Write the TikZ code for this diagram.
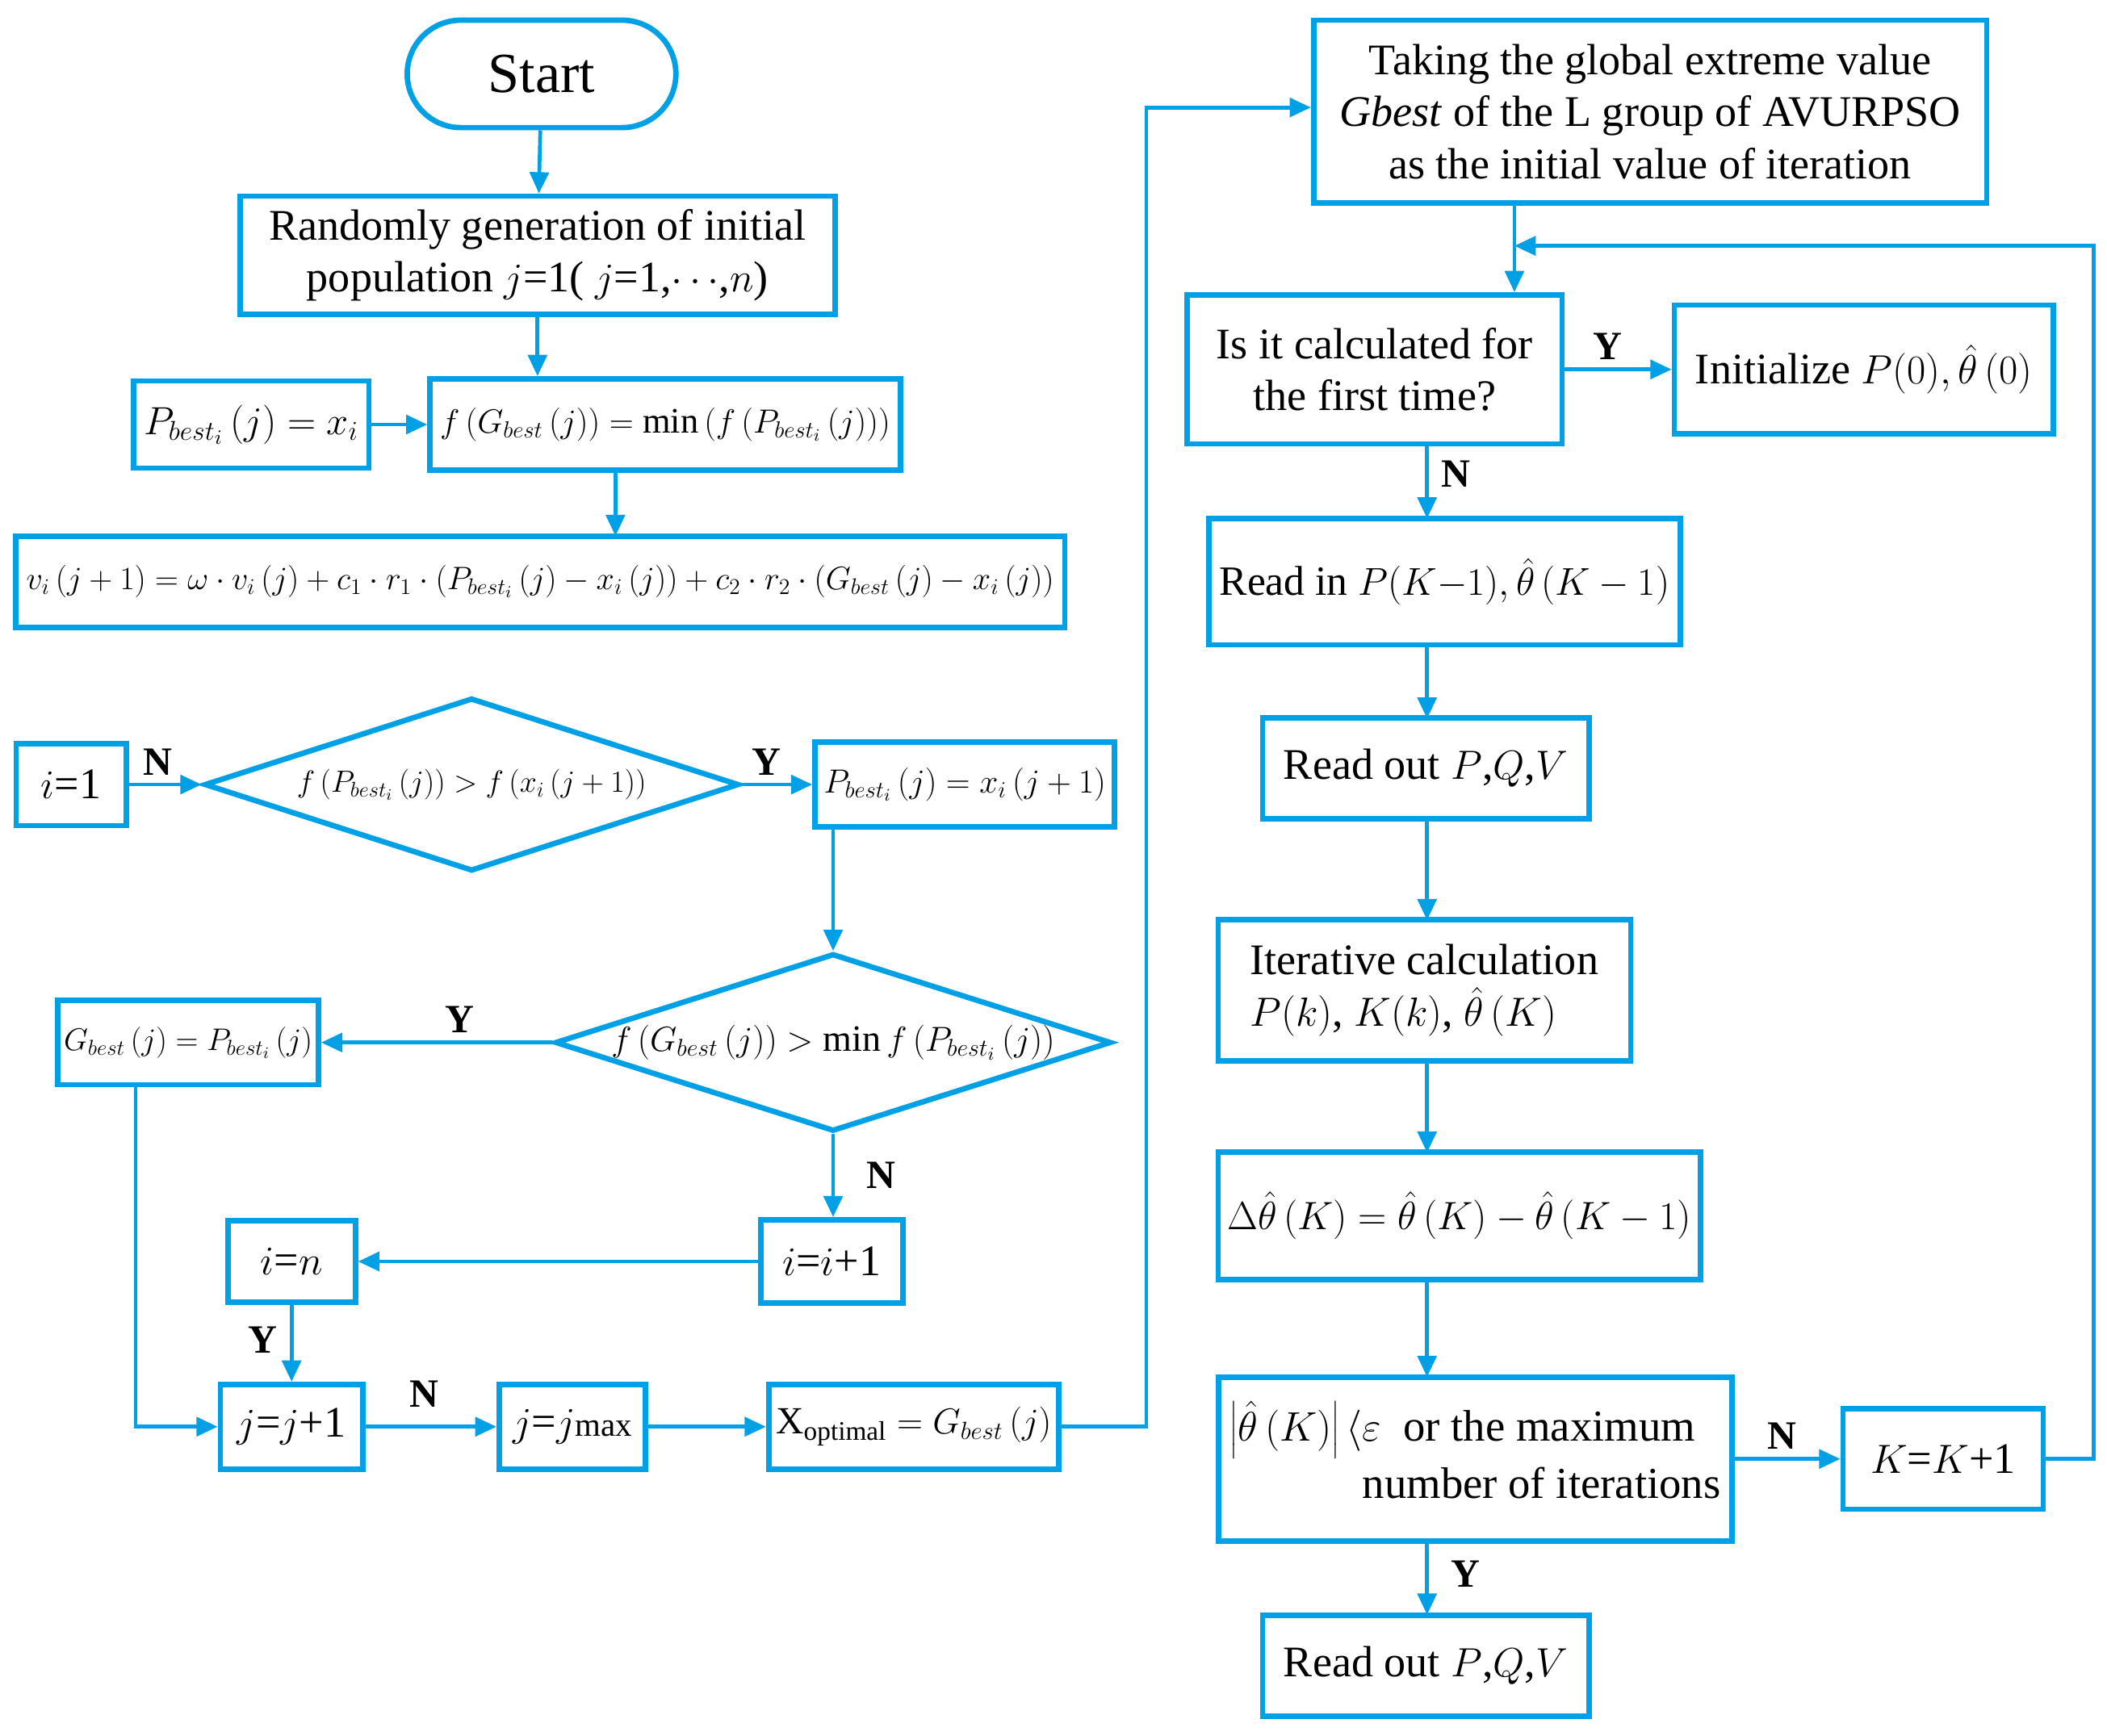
\documentclass[tikz,border=0pt]{standalone}
\usepackage{fontspec}
\usepackage{graphicx}
\setmainfont{Liberation Serif}
\usetikzlibrary{shapes.geometric,arrows.meta}
\definecolor{fc}{RGB}{0,160,230}
\newcommand{\fitw}[2]{\resizebox{#1}{!}{$#2$}}
\begin{document}
\begin{tikzpicture}[x=0.02cm,y=-0.02cm,
  every node/.style={font=\fontsize{18.5}{22}\selectfont},
  box/.style={draw=fc,line width=2.3pt,minimum width=#1,inner sep=2pt,align=center},
  dia/.style={draw=fc,line width=2.3pt,diamond,aspect=3.1,inner sep=0pt},
  ar/.style={draw=fc,line width=1.6pt,-{Triangle[length=9pt,width=8pt]}},
  ln/.style={draw=fc,line width=1.6pt},
  lb/.style={font=\fontsize{17}{20}\selectfont\bfseries}]
\useasboundingbox (0,0) rectangle (1568,1292);
\node[box=4cm,rounded corners=0.8cm,minimum height=1.6cm,font=\fontsize{24}{28}\selectfont] (start) at (403,55) {Start};
\node[box=8.86cm,minimum height=1.76cm] (rand) at (400,190) {Randomly generation of initial\\population $j$=1( $j$=1,$\cdots$,$n$)};
\node[box=3.5cm,minimum height=1.3cm] (pbest) at (187,316) {\fitw{3.2cm}{P_{best_i}\left(j\right)=x_i}};
\node[box=7cm,minimum height=1.36cm] (fG) at (495,316) {\fitw{6.7cm}{f\left(G_{best}\left(j\right)\right)=\min\left(f\left(P_{best_i}\left(j\right)\right)\right)}};
\node[box=15.62cm,minimum height=1.36cm] (v) at (402,433) {\fitw{15.3cm}{v_i\left(j+1\right)=\omega\cdot v_i\left(j\right)+c_1\cdot r_1\cdot\left(P_{best_i}\left(j\right)-x_i\left(j\right)\right)+c_2\cdot r_2\cdot\left(G_{best}\left(j\right)-x_i\left(j\right)\right)}};
\node[box=1.64cm,minimum height=1.22cm] (i1) at (53,584) {$i$=1};
\node[dia,minimum width=7.96cm,minimum height=2.58cm] (d1) at (351,584) {\fitw{5.2cm}{f\left(P_{best_i}\left(j\right)\right)>f\left(x_i\left(j+1\right)\right)}};
\node[box=4.46cm,minimum height=1.26cm] (pb2) at (718,584) {\fitw{4.2cm}{P_{best_i}\left(j\right)=x_i\left(j+1\right)}};
\node[dia,minimum width=8.28cm,minimum height=2.54cm] (d2) at (620,776) {\fitw{6.6cm}{f\left(G_{best}\left(j\right)\right)>\min f\left(P_{best_i}\left(j\right)\right)}};
\node[box=3.88cm,minimum height=1.26cm] (gb) at (140,776) {\fitw{3.7cm}{G_{best}\left(j\right)=P_{best_i}\left(j\right)}};
\node[box=2.12cm,minimum height=1.24cm] (ii1) at (619,939) {$i$=$i$+1};
\node[box=1.9cm,minimum height=1.22cm] (in) at (217,939) {$i$=$n$};
\node[box=2.12cm,minimum height=1.26cm] (jj1) at (217,1062) {$j$=$j$+1};
\node[box=2.18cm,minimum height=1.26cm] (jmax) at (426,1062) {$j$=$j${\fontsize{14}{16}\selectfont max}};
\node[box=4.32cm,minimum height=1.26cm] (xopt) at (680,1062) {\fitw{4.1cm}{\mathrm{X}_{\mathrm{optimal}}=G_{best}\left(j\right)}};
\node[box=10.02cm,minimum height=2.72cm] (take) at (1228,83) {Taking the global extreme value\\\textit{Gbest} of the L group of AVURPSO\\as the initial value of iteration};
\node[box=5.58cm,minimum height=2.22cm] (first) at (1023,275) {Is it calculated for\\the first time?};
\node[box=5.64cm,minimum height=1.92cm] (init) at (1387,275) {Initialize $P(0),\hat\theta\left(0\right)$};
\node[box=7.02cm,minimum height=1.88cm] (readin) at (1075,433) {\resizebox{6.7cm}{!}{Read in $P(K{-}1),\hat\theta\left(K-1\right)$}};
\node[box=4.86cm,minimum height=1.5cm] (ro1) at (1061,572) {Read out $P$,$Q$,$V$};
\node[box=6.14cm,minimum height=2.1cm,align=left] (iter) at (1060,737) {Iterative calculation\\$P(k)$, $K(k)$, $\hat\theta\left(K\right)$};
\node[box=7.18cm,minimum height=1.9cm] (delta) at (1086,905) {\fitw{6.9cm}{\Delta\hat\theta\left(K\right)=\hat\theta\left(K\right)-\hat\theta\left(K-1\right)}};
\node[box=7.64cm,minimum height=2.44cm] (cond) at (1098,1086) {\resizebox{7.3cm}{!}{\begin{tabular}{@{}l@{}}$\left|\hat\theta\left(K\right)\right|\langle\varepsilon$\enspace or the maximum\\\phantom{$\left|\hat\theta\left(K\right)\right|\langle$}number of iterations\end{tabular}}};
\node[box=2.98cm,minimum height=1.5cm] (kk1) at (1446,1086) {$K$=$K$+1};
\node[box=4.86cm,minimum height=1.5cm] (ro2) at (1061,1240) {Read out $P$,$Q$,$V$};
\coordinate (c1) at (853,1062);
\coordinate (c2) at (853,80);
\coordinate (c3) at (1558,1086);
\coordinate (c4) at (1558,183);
\coordinate (c5) at (1127,183);
\coordinate (g1) at (101,1062);
% connectors
\draw[ar] (start) -- (rand);
\draw[ar] (rand.south) -- (rand.south|-fG.north);
\draw[ar] (pbest) -- (fG);
\draw[ar] (458,350) -- (458,399);
\draw[ar] (i1) -- (d1) node[lb,pos=0.4,above] {N};
\draw[ar] (d1) -- (pb2) node[lb,pos=0.35,above] {Y};
\draw[ar] (pb2.south-|d2.north) -- (d2.north);
\draw[ar] (d2) -- (gb) node[lb,pos=0.4,above] {Y};
\draw[ar] (d2.south) -- (d2.south|-ii1.north) node[lb,pos=0.5,right=10pt] {N};
\draw[ar] (ii1) -- (in);
\draw[ar] (in) -- (jj1) node[lb,pos=0.45,left=2pt] {Y};
\draw[ar] (gb.south-|g1) -- (g1) -- (jj1);
\draw[ar] (jj1) -- (jmax) node[lb,pos=0.45,above=4pt] {N};
\draw[ar] (jmax) -- (xopt);
\draw[ar] (xopt) -- (c1) -- (c2) -- (take.west|-c2);
\draw[ar] (take.south-|c5) -- (first.north-|c5);
\draw[ar] (first) -- (init) node[lb,pos=0.4,above] {Y};
\draw[ar] (1062,331) -- (1062,386) node[lb,pos=0.4,right=2pt] {N};
\draw[ar] (1062,480) -- (1062,535);
\draw[ar] (1062,610) -- (1062,685);
\draw[ar] (1062,790) -- (1062,858);
\draw[ar] (1062,953) -- (1062,1025);
\draw[ar] (1062,1147) -- (1062,1202) node[lb,pos=0.45,right=6pt] {Y};
\draw[ar] (cond) -- (kk1) node[lb,pos=0.45,above] {N};
\draw[ar] (kk1) -- (c3) -- (c4) -- (c5);
\end{tikzpicture}
\end{document}
